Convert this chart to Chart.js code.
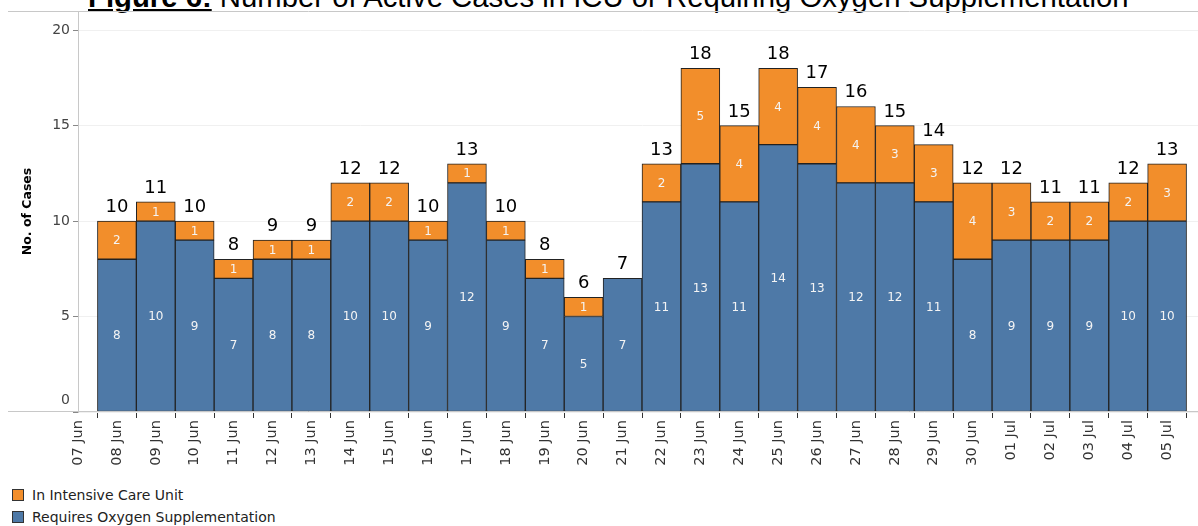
<!DOCTYPE html>
<html>
<head>
<meta charset="utf-8">
<script src="https://cdn.jsdelivr.net/npm/chart.js@4.4.0/dist/chart.umd.min.js"></script>
<style>
    html, body { margin: 0; padding: 0; background: #fff; overflow: hidden; width: 1198px; height: 526px; }
    #title {
        position: absolute; left: 88px; top: -18px; white-space: nowrap;
        font: 29.3px "Liberation Sans", Arial, sans-serif; line-height: 29px; color: #000;
    }
    #title b { text-decoration: underline; }
    #wrap { position: absolute; left: 0; top: 0; }
    .legend { position: absolute; left: 12px; font: 14px "DejaVu Sans", sans-serif; color: #222; white-space: nowrap; }
    .legend span {
        display: inline-block; width: 10px; height: 10px; border: 1px solid #333;
        vertical-align: -1px; margin-right: 8px;
    }
</style>
</head>
<body>
<div id="title"><b>Figure 6:</b> Number of Active Cases in ICU or Requiring Oxygen Supplementation</div>
<div id="wrap"><canvas id="barChart" width="1210" height="480"></canvas></div>
<div class="legend" style="top:487px"><span style="background:#f28e2b"></span>In Intensive Care Unit</div>
<div class="legend" style="top:509px"><span style="background:#4e79a7"></span>Requires Oxygen Supplementation</div>
<script>
// dates with bars
var days = ['08 Jun', '09 Jun', '10 Jun', '11 Jun', '12 Jun', '13 Jun', '14 Jun', '15 Jun', '16 Jun', '17 Jun',
    '18 Jun', '19 Jun', '20 Jun', '21 Jun', '22 Jun', '23 Jun', '24 Jun', '25 Jun', '26 Jun', '27 Jun',
    '28 Jun', '29 Jun', '30 Jun', '01 Jul', '02 Jul', '03 Jul', '04 Jul', '05 Jul'];
var oxygen = [8, 10, 9, 7, 8, 8, 10, 10, 9, 12, 9, 7, 5, 7, 11, 13, 11, 14, 13, 12, 12, 11, 8, 9, 9, 9, 10, 10];
var icu = [2, 1, 1, 1, 1, 1, 2, 2, 1, 1, 1, 1, 1, 0, 2, 5, 4, 4, 4, 4, 3, 3, 4, 3, 2, 2, 2, 3];
var yTicks = [0, 5, 10, 15, 20];

// axis runs one day either side of the bars
var labels = ['07 Jun'].concat(days, ['06 Jul']);
var pad = function (arr) { return [null].concat(arr, [null]); };

var barLabels = {
    id: 'barLabels',
    afterDatasetsDraw: function (chart) {
        var ctx = chart.ctx;
        ctx.save();
        ctx.textAlign = 'center';
        ctx.textBaseline = 'middle';
        ctx.font = '12px "DejaVu Sans"';
        ctx.fillStyle = '#f4f4f4';
        chart.data.datasets.forEach(function (ds, i) {
            chart.getDatasetMeta(i).data.forEach(function (bar, j) {
                var v = ds.data[j];
                if (!v) return;
                ctx.fillText(v, bar.x, (bar.y + bar.base) / 2 + 1);
            });
        });
        // totals above the stacks
        ctx.font = '18px "DejaVu Sans"';
        ctx.fillStyle = '#000';
        ctx.textBaseline = 'alphabetic';
        var meta = chart.getDatasetMeta(0);
        days.forEach(function (d, k) {
            var total = oxygen[k] + icu[k];
            var x = meta.data[k + 1].x;
            ctx.fillText(total, x, chart.scales.y.getPixelForValue(total) - 9);
        });
        ctx.restore();
    },
    afterDraw: function (chart) {
        var ctx = chart.ctx;
        ctx.save();
        ctx.strokeStyle = '#c8c8c8';
        ctx.lineWidth = 1;
        ctx.beginPath();
        ctx.moveTo(8, 11.5); ctx.lineTo(chart.width, 11.5);
        ctx.moveTo(8, 411.5); ctx.lineTo(chart.width, 411.5);
        ctx.stroke();
        // zero label sits above the axis line
        ctx.fillStyle = '#444';
        ctx.font = '14px "DejaVu Sans"';
        ctx.textAlign = 'right';
        ctx.textBaseline = 'middle';
        ctx.fillText('0', 70, 400);
        ctx.restore();
    }
};

var ctx1 = document.getElementById('barChart').getContext('2d');
var barChart1 = new Chart(ctx1, {
    type: 'bar',
    data: {
        labels: labels,
        datasets: [{
            label: 'Requires Oxygen Supplementation',
            data: pad(oxygen),
            backgroundColor: '#4e79a7',
            borderColor: '#222',
            borderWidth: 1,
            borderSkipped: false
        }, {
            label: 'In Intensive Care Unit',
            data: pad(icu),
            backgroundColor: '#f28e2b',
            borderColor: '#222',
            borderWidth: 1,
            borderSkipped: false
        }]
    },
    options: {
        responsive: false,
        animation: false,
        devicePixelRatio: 1,
        layout: { padding: { left: 0, right: 4, top: 11, bottom: 0 } },
        plugins: { legend: { display: false }, tooltip: { enabled: false } },
        datasets: { bar: { barPercentage: 1, categoryPercentage: 1 } },
        scales: {
            x: {
                stacked: true,
                offset: false,
                border: { display: false },
                grid: { drawOnChartArea: false, drawTicks: true, tickLength: 6, tickColor: '#333' },
                ticks: {
                    autoSkip: false, minRotation: 90, maxRotation: 90, padding: 2,
                    color: '#333', font: { family: 'DejaVu Sans', size: 14.5 }
                },
                afterFit: function (scale) {
                    scale.height = 68;
                    scale.paddingLeft = 0;
                    scale.paddingRight = 0;
                }
            },
            y: {
                stacked: true,
                min: 0,
                max: 21,
                afterBuildTicks: function (scale) {
                    scale.ticks = yTicks.map(function (v) { return { value: v }; });
                },
                border: { display: true, color: '#c8c8c8' },
                grid: { color: '#f0f0f0', drawTicks: true, tickLength: 5, tickColor: '#888' },
                ticks: {
                    padding: 3, color: '#444', font: { family: 'DejaVu Sans', size: 14 },
                    callback: function (v) { return v === 0 ? '' : v; }
                },
                title: {
                    display: true, text: 'No. of Cases', color: '#000',
                    font: { family: 'DejaVu Sans', size: 12.5, weight: 'bold' },
                    padding: { top: 20, bottom: 0 }
                },
                afterFit: function (scale) {
                    scale.width = 78;
                    scale.paddingTop = 0;
                    scale.paddingBottom = 0;
                }
            }
        }
    },
    plugins: [barLabels]
});
</script>
</body>
</html>
